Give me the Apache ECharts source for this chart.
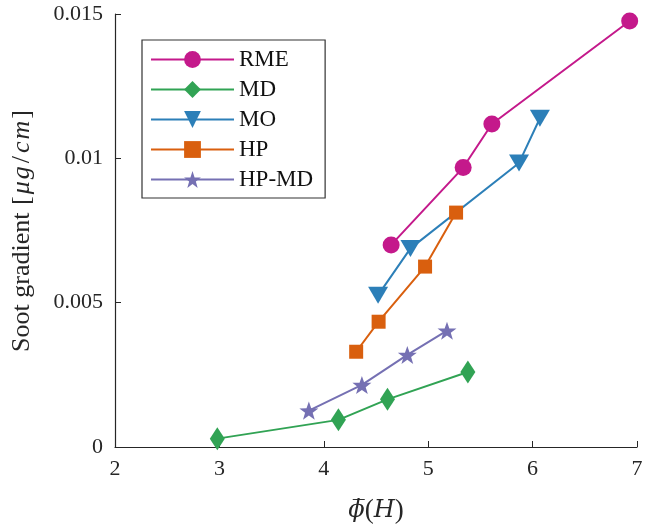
<!DOCTYPE html>
<html>
<head>
<meta charset="utf-8">
<script src="https://cdn.jsdelivr.net/npm/echarts@6/dist/echarts.min.js"></script>
<style>
  html, body { margin: 0; padding: 0; background: #fff; }
  #chart { width: 645px; height: 525px; }
</style>
</head>
<body>
<div id="chart"></div>
<script>
// Soot gradient against mean equivalence ratio for each fuel
const seriesNames = ['RME', 'MD', 'MO', 'HP', 'HP-MD'];

const rmeX = [4.645, 5.335, 5.61, 6.93];
const rmeY = [0.0070, 0.00968, 0.01119, 0.01476];

const mdX = [2.98, 4.14, 4.61, 5.38];
const mdY = [0.00029, 0.00094, 0.00165, 0.0026];

const moX = [4.52, 4.83, 5.87, 6.07];
const moY = [0.00526, 0.00688, 0.00984, 0.01139];

const hpX = [4.31, 4.525, 4.97, 5.267];
const hpY = [0.0033, 0.00434, 0.00625, 0.00812];

const hpmdX = [3.857, 4.365, 4.80, 5.18];
const hpmdY = [0.00126, 0.00215, 0.00319, 0.00403];

const xTicks = [2, 3, 4, 5, 6, 7];
const yTicks = [0, 0.005, 0.01, 0.015];

const colors = {
  'RME': '#C4198B',
  'MD': '#31A354',
  'MO': '#2C7FB8',
  'HP': '#D95F0E',
  'HP-MD': '#7570B3'
};

const starPath = 'path://M0,-10 L2.35,-3.24 L9.51,-3.09 L3.8,1.24 L5.88,8.09 L0,4 L-5.88,8.09 L-3.8,1.24 L-9.51,-3.09 L-2.35,-3.24 Z';

const markers = {
  'RME': { symbol: 'circle', symbolSize: 17 },
  'MD': { symbol: 'diamond', symbolSize: [15, 23] },
  'MO': { symbol: 'triangle', symbolSize: [20, 17], symbolRotate: 180 },
  'HP': { symbol: 'rect', symbolSize: 14 },
  'HP-MD': { symbol: starPath, symbolSize: 19 }
};

const xs = { 'RME': rmeX, 'MD': mdX, 'MO': moX, 'HP': hpX, 'HP-MD': hpmdX };
const ys = { 'RME': rmeY, 'MD': mdY, 'MO': moY, 'HP': hpY, 'HP-MD': hpmdY };

const serif = '"Liberation Serif", "DejaVu Serif", serif';
const ink = '#262626';

const series = seriesNames.map(function (name) {
  const m = markers[name];
  return {
    name: name,
    type: 'line',
    data: xs[name].map(function (x, i) { return [x, ys[name][i]]; }),
    symbol: m.symbol,
    symbolSize: m.symbolSize,
    symbolRotate: m.symbolRotate || 0,
    symbolKeepAspect: true,
    showAllSymbol: true,
    lineStyle: { color: colors[name], width: 2 },
    itemStyle: { color: colors[name], borderWidth: 0 },
    emphasis: { disabled: true },
    animation: false
  };
});

// math-style spacing for the unit in the y-axis title
const unitTokens = ['μ', 'g', '/', 'c', 'm'].map(function (c) {
  return c === '/' ? '{s|/}' : '{i|' + c + '}';
}).join('');

const chart = echarts.init(document.getElementById('chart'), null, { renderer: 'canvas' });
chart.setOption({
  backgroundColor: '#ffffff',
  animation: false,
  grid: { left: 115, right: 8, top: 14, bottom: 78, containLabel: false, outerBoundsMode: 'none' },
  legend: {
    data: seriesNames,
    orient: 'vertical',
    left: 142,
    top: 40,
    itemWidth: 83,
    itemHeight: 21,
    itemGap: 7,
    padding: [8, 12, 7, 8],
    borderColor: '#333',
    borderWidth: 1.2,
    lineStyle: { width: 2 },
    textStyle: { fontFamily: serif, fontSize: 23, color: '#111' }
  },
  xAxis: {
    type: 'value',
    min: 2,
    max: 7,
    interval: 1,
    axisLine: { show: true, onZero: false, lineStyle: { color: ink, width: 1.2 } },
    axisTick: { show: true, inside: true, length: 6, lineStyle: { color: ink } },
    splitLine: { show: false },
    axisLabel: {
      fontFamily: serif, fontSize: 22, color: ink, margin: 11,
      formatter: function (v) { return xTicks.indexOf(v) >= 0 ? String(v) : ''; }
    },
    name: '{i|ϕ\u0305}{r|(}{i|H}{r|)}',
    nameLocation: 'middle',
    nameGap: 50,
    nameTextStyle: {
      rich: {
        i: { fontFamily: '"DejaVu Serif", serif', fontSize: 24, fontStyle: 'italic', color: ink },
        r: { fontFamily: serif, fontSize: 27, color: ink }
      }
    }
  },
  yAxis: {
    type: 'value',
    min: 0,
    max: 0.015,
    interval: 0.005,
    axisLine: { show: true, onZero: false, lineStyle: { color: ink, width: 1.2 } },
    axisTick: { show: true, inside: true, length: 6, lineStyle: { color: ink } },
    splitLine: { show: false },
    axisLabel: {
      fontFamily: serif, fontSize: 22, color: ink, margin: 12,
      formatter: function (v) {
        const t = yTicks.find(function (k) { return Math.abs(k - v) < 1e-9; });
        return t === undefined ? '' : String(t);
      }
    },
    name: '{r|Soot gradient }{b|[}' + unitTokens + '{b|]}',
    nameLocation: 'middle',
    nameGap: 80,
    nameTextStyle: {
      rich: {
        r: { fontFamily: serif, fontSize: 26, color: ink },
        b: { fontFamily: serif, fontSize: 26, color: ink, padding: [0, 1] },
        i: { fontFamily: serif, fontSize: 26, fontStyle: 'italic', color: ink, padding: [0, 1] },
        s: { fontFamily: serif, fontSize: 26, color: ink, padding: [0, 2] }
      }
    }
  },
  series: series
});
</script>
</body>
</html>
